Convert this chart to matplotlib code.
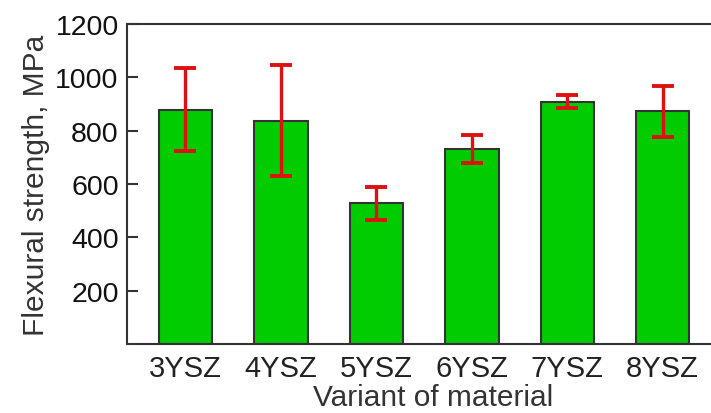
import matplotlib
matplotlib.use("Agg")
import matplotlib.pyplot as plt
import numpy as np

categories = ["3YSZ", "4YSZ", "5YSZ", "6YSZ", "7YSZ", "8YSZ"]
strength = [879, 838, 527, 731, 909, 872]
err_low = [157, 207, 61, 51, 25, 95]
err_high = [155, 207, 61, 52, 25, 95]
yticks = [200, 400, 600, 800, 1000, 1200]

plt.rcParams['font.family'] = ['Liberation Sans', 'DejaVu Sans']

fig = plt.figure(figsize=(7.11, 4.14), dpi=100)
W, H = 711, 414
ax = fig.add_axes([127 / W, 1 - 345 / H, (739 - 127) / W, (345 - 25) / H])

x = np.arange(len(categories))
ax.bar(x, strength, width=0.56, color="#00cc00", edgecolor="#333333", linewidth=1.5, zorder=2)
ax.errorbar(x, strength, yerr=[err_low, err_high], fmt="none", ecolor="#dd1111",
            elinewidth=2.4, capsize=8, capthick=2.8, zorder=3)

ax.set_ylim(0, 1200)
ax.set_xlim(-0.613, 5.8)
ax.set_yticks(yticks)
ax.set_yticklabels([str(v) for v in yticks])
ax.set_xticks(x)
ax.set_xticklabels(categories)
ax.tick_params(axis="y", direction="in", length=8, width=1.5, color="#333333",
               labelsize=20.5, pad=6, labelcolor="#111111")
ax.tick_params(axis="x", length=0, labelsize=21, pad=7, labelcolor="#222222")
for s in ["left", "bottom", "top"]:
    ax.spines[s].set_linewidth(1.5)
    ax.spines[s].set_color("#333333")
ax.spines["right"].set_visible(False)

ax.set_ylabel("Flexural strength, MPa", fontsize=21.5, color="#333333", labelpad=4)
ax.set_xlabel("Variant of material", fontsize=21.5, color="#333333", labelpad=1)

fig.savefig("out.png", dpi=100)
